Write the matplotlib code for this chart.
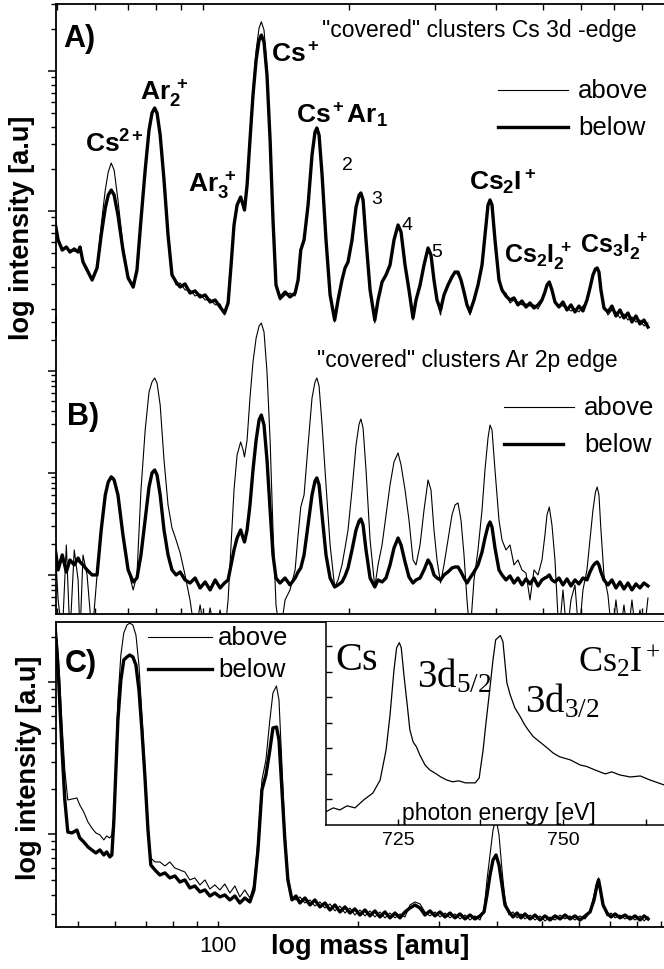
import numpy as np
import matplotlib
matplotlib.use('Agg')
import matplotlib.pyplot as plt
from matplotlib.lines import Line2D
from matplotlib.ticker import NullFormatter, LogLocator, FixedLocator

plt.rcParams['font.family'] = ['Liberation Sans', 'DejaVu Sans']
plt.rcParams['mathtext.fontset'] = 'custom'
plt.rcParams['mathtext.rm'] = 'Liberation Serif'
plt.rcParams['mathtext.bf'] = 'Liberation Sans:bold'
plt.rcParams['mathtext.it'] = 'Liberation Serif:italic'
plt.rcParams['mathtext.sf'] = 'Liberation Sans'

# ---- panels A and B: mass axis shared (amu), values are log10 intensity ----
mass_ab = [49.6, 50.3, 51.3, 52.3, 53.2, 54.3, 55.3, 55.8, 56.6, 57.7,
           59.1, 60.5, 61.7, 62.9, 63.8, 64.7, 65.6, 66.8, 68.4, 70.1,
           71.8, 73.1, 74.5, 76.0, 77.4, 78.5, 79.5, 80.4, 81.6, 83.1,
           84.7, 86.3, 88.0, 89.7, 91.8, 94.0, 96.3, 98.6, 101.0, 103.4,
           105.9, 108.4, 110.7, 112.6, 114.2, 115.8, 117.5, 119.5, 120.9, 121.7,
           123.2, 124.9, 126.7, 128.6, 130.4, 131.8, 133.5, 135.4, 137.4, 139.3,
           141.3, 144.0, 147.5, 151.0, 154.7, 156.9, 158.9, 161.4, 164.5, 167.6,
           170.0, 171.5, 173.3, 175.8, 179.1, 182.6, 186.6, 189.6, 193.2, 196.0,
           198.8, 202.6, 206.5, 209.5, 211.3, 213.5, 216.5, 220.7, 225.7, 229.2,
           233.6, 238.0, 242.6, 247.2, 252.0, 255.6, 260.5, 265.4, 270.5, 274.4,
           279.7, 285.0, 290.5, 294.6, 298.8, 303.1, 308.2, 313.3, 319.3, 325.4,
           330.1, 334.8, 339.6, 344.5, 349.4, 354.4, 361.2, 368.1, 375.2, 380.5,
           386.0, 389.7, 393.4, 399.0, 406.6, 412.5, 420.3, 428.4, 436.6, 444.9,
           453.4, 462.1, 471.0, 480.0, 489.2, 498.5, 505.6, 510.5, 516.1, 522.7,
           530.2, 540.4, 550.7, 561.2, 572.0, 582.9, 594.1, 605.4, 617.0, 625.9,
           634.8, 642.4, 647.6, 653.1, 659.3, 668.8, 681.6, 694.6, 707.9, 721.5,
           735.3, 749.4, 763.7, 778.3, 793.2, 808.4, 823.9]

a_below = [0.914, 0.793, 0.721, 0.743, 0.707, 0.729, 0.707, 0.743, 0.636, 0.578,
           0.507, 0.593, 0.828, 1.021, 1.114, 1.150, 1.114, 0.971, 0.721, 0.521,
           0.457, 0.578, 0.936, 1.293, 1.578, 1.700, 1.736, 1.700, 1.543, 1.221,
           0.828, 0.543, 0.493, 0.457, 0.479, 0.414, 0.429, 0.386, 0.400, 0.350,
           0.364, 0.314, 0.271, 0.343, 0.614, 0.900, 1.043, 1.100, 1.043, 1.007,
           1.186, 1.507, 1.828, 2.079, 2.221, 2.257, 2.207, 1.971, 1.507, 0.936,
           0.471, 0.379, 0.421, 0.386, 0.414, 0.507, 0.721, 0.793, 1.043, 1.400,
           1.564, 1.593, 1.543, 1.257, 0.793, 0.400, 0.221, 0.364, 0.507, 0.593,
           0.636, 0.793, 1.028, 1.114, 1.129, 1.079, 0.793, 0.436, 0.221, 0.364,
           0.493, 0.543, 0.614, 0.793, 0.900, 0.850, 0.614, 0.436, 0.236, 0.364,
           0.471, 0.614, 0.736, 0.686, 0.507, 0.364, 0.293, 0.400, 0.471, 0.529,
           0.564, 0.564, 0.507, 0.421, 0.329, 0.279, 0.364, 0.471, 0.614, 0.828,
           1.043, 1.079, 1.043, 0.793, 0.507, 0.436, 0.393, 0.364, 0.379, 0.329,
           0.357, 0.314, 0.343, 0.307, 0.329, 0.364, 0.421, 0.471, 0.493, 0.436,
           0.350, 0.314, 0.350, 0.293, 0.329, 0.279, 0.321, 0.286, 0.364, 0.450,
           0.543, 0.586, 0.593, 0.564, 0.436, 0.307, 0.279, 0.321, 0.250, 0.293,
           0.236, 0.271, 0.207, 0.250, 0.193, 0.221, 0.171]

a_above = [0.914, 0.793, 0.721, 0.736, 0.721, 0.714, 0.707, 0.743, 0.636, 0.593,
           0.514, 0.607, 0.900, 1.150, 1.279, 1.343, 1.293, 1.079, 0.757, 0.536,
           0.450, 0.578, 0.936, 1.293, 1.578, 1.700, 1.736, 1.700, 1.543, 1.221,
           0.828, 0.564, 0.471, 0.486, 0.436, 0.436, 0.393, 0.407, 0.364, 0.371,
           0.329, 0.336, 0.257, 0.329, 0.614, 0.900, 1.043, 1.100, 1.043, 1.007,
           1.186, 1.543, 1.878, 2.150, 2.307, 2.352, 2.293, 2.021, 1.543, 0.936,
           0.471, 0.364, 0.400, 0.414, 0.393, 0.507, 0.721, 0.793, 1.043, 1.400,
           1.564, 1.593, 1.543, 1.257, 0.793, 0.400, 0.207, 0.364, 0.493, 0.593,
           0.636, 0.793, 1.028, 1.114, 1.129, 1.079, 0.793, 0.421, 0.200, 0.364,
           0.493, 0.543, 0.614, 0.793, 0.900, 0.850, 0.614, 0.421, 0.221, 0.364,
           0.471, 0.614, 0.736, 0.686, 0.507, 0.364, 0.257, 0.400, 0.471, 0.529,
           0.564, 0.543, 0.507, 0.421, 0.329, 0.257, 0.364, 0.471, 0.614, 0.828,
           1.043, 1.079, 1.043, 0.793, 0.507, 0.421, 0.414, 0.343, 0.364, 0.350,
           0.329, 0.336, 0.321, 0.329, 0.300, 0.350, 0.421, 0.471, 0.493, 0.436,
           0.343, 0.329, 0.321, 0.307, 0.286, 0.300, 0.279, 0.321, 0.350, 0.450,
           0.543, 0.586, 0.593, 0.564, 0.436, 0.321, 0.257, 0.293, 0.279, 0.236,
           0.264, 0.221, 0.243, 0.207, 0.221, 0.179, 0.200]

b_below = [0.261, 0.046, 0.193, 0.026, 0.144, 0.095, 0.163, 0.124, 0.095, 0.046,
           -0.003, -0.003, 0.438, 0.781, 0.909, 0.958, 0.928, 0.781, 0.389, 0.046,
           -0.072, -0.033, 0.193, 0.536, 0.859, 0.997, 1.026, 0.977, 0.781, 0.438,
           0.193, 0.046, -0.003, 0.026, -0.052, -0.082, -0.033, -0.131, -0.072, -0.150,
           -0.052, -0.131, -0.082, -0.052, 0.095, 0.242, 0.359, 0.438, 0.359, 0.320,
           0.438, 0.683, 1.026, 1.320, 1.516, 1.565, 1.467, 1.124, 0.634, 0.193,
           -0.033, -0.082, -0.033, -0.101, -0.033, 0.026, 0.065, 0.193, 0.487, 0.781,
           0.918, 0.948, 0.879, 0.585, 0.193, -0.033, -0.121, -0.101, -0.072, -0.013,
           0.065, 0.242, 0.438, 0.526, 0.546, 0.487, 0.242, -0.033, -0.121, -0.052,
           -0.072, -0.033, 0.095, 0.261, 0.359, 0.291, 0.124, -0.023, -0.082, -0.052,
           -0.033, 0.046, 0.144, 0.095, -0.003, -0.033, -0.052, -0.003, 0.026, 0.065,
           0.075, 0.075, 0.026, -0.033, -0.082, -0.033, 0.026, 0.095, 0.222, 0.359,
           0.477, 0.516, 0.467, 0.261, 0.046, -0.003, -0.052, -0.013, -0.082, -0.033,
           -0.101, -0.042, -0.091, -0.033, -0.111, -0.052, -0.033, -0.023, -0.003, -0.052,
           -0.072, -0.033, -0.101, -0.042, -0.111, -0.052, -0.091, -0.033, -0.052, 0.026,
           0.085, 0.114, 0.124, 0.095, 0.026, -0.052, -0.101, -0.052, -0.131, -0.072,
           -0.141, -0.082, -0.150, -0.091, -0.131, -0.082, -0.111]

b_above = [0.271, -0.248, -0.6, 0.291, -0.6, 0.242, -0.052, -0.6, 0.193, -0.003,
           -0.6, -0.003, 0.418, 0.781, 0.909, 0.967, 0.948, 0.781, 0.389, 0.046,
           -0.150, -0.003, 0.830, 1.418, 1.791, 1.889, 1.928, 1.879, 1.663, 1.124,
           0.683, 0.458, 0.340, 0.212, -0.003, -0.248, -0.6, -0.297, -0.6, -0.327,
           -0.6, -0.346, -0.6, -0.248, 0.291, 0.830, 1.173, 1.301, 1.222, 1.154,
           1.320, 1.732, 2.085, 2.320, 2.438, 2.467, 2.379, 1.987, 1.320, 0.438,
           -0.297, -0.6, -0.248, -0.150, 0.046, 0.389, 0.663, 0.781, 1.271, 1.732,
           1.889, 1.928, 1.850, 1.467, 0.879, 0.291, -0.121, -0.052, 0.095, 0.261,
           0.438, 0.830, 1.271, 1.477, 1.526, 1.438, 1.026, 0.340, -0.121, 0.095,
           0.291, 0.585, 0.879, 1.105, 1.193, 1.075, 0.830, 0.536, 0.144, 0.095,
           0.291, 0.634, 0.928, 0.830, 0.438, 0.144, -0.082, 0.095, 0.340, 0.585,
           0.683, 0.703, 0.536, 0.193, -0.248, -0.6, -0.052, 0.242, 0.634, 1.026,
           1.340, 1.467, 1.418, 1.026, 0.536, 0.340, 0.242, 0.291, 0.095, 0.144,
           0.046, 0.016, -0.248, 0.046, -0.003, 0.144, 0.389, 0.585, 0.663, 0.487,
           0.144, -0.6, -0.150, -0.6, -0.248, -0.101, -0.6, -0.150, 0.046, 0.340,
           0.634, 0.810, 0.859, 0.781, 0.438, -0.003, -0.199, -0.6, -0.248, -0.6,
           -0.297, -0.6, -0.248, -0.6, -0.346, -0.6, -0.229]

# ---- panel C ----
mass_c = [44.8, 45.4, 46.1, 46.8, 47.5, 48.5, 49.7, 50.4, 51.4, 52.5,
          53.5, 54.6, 55.7, 56.8, 57.6, 58.5, 59.1, 59.7, 60.3, 60.9,
          61.8, 62.7, 63.7, 64.6, 65.6, 66.6, 67.6, 68.6, 69.6, 70.7,
          71.7, 73.2, 75.0, 76.9, 78.8, 80.8, 82.8, 84.9, 87.0, 89.2,
          91.5, 93.8, 96.1, 98.5, 101.0, 103.5, 106.1, 108.8, 111.5, 114.3,
          117.2, 119.6, 122.0, 124.4, 126.9, 129.4, 131.4, 133.7, 135.4, 137.4,
          139.4, 141.5, 144.4, 147.3, 150.2, 154.0, 157.9, 161.8, 165.9, 170.1,
          174.3, 178.7, 183.2, 187.8, 192.5, 197.3, 202.3, 207.4, 212.6, 217.9,
          223.4, 229.0, 234.8, 240.7, 246.7, 252.9, 259.3, 265.8, 272.5, 279.3,
          286.3, 293.5, 300.9, 308.5, 316.2, 324.1, 332.3, 340.6, 349.2, 357.9,
          366.9, 374.3, 379.9, 385.6, 391.4, 397.3, 403.2, 409.3, 415.4, 423.7,
          432.2, 440.9, 449.7, 458.7, 470.3, 482.1, 494.2, 506.6, 519.3, 532.4,
          545.8, 559.5, 573.5, 587.9, 602.7, 617.9, 633.4, 646.0, 655.7, 660.7,
          665.6, 675.6, 689.1, 702.9, 717.0, 735.0, 753.4, 772.4, 791.8, 811.7,
          828.0, 844.6]

c_below = [2.278, 2.015, 1.588, 1.226, 1.015, 1.009, 1.028, 0.976, 0.950, 0.917,
           0.897, 0.877, 0.897, 0.864, 0.884, 0.851, 0.864, 1.094, 1.423, 1.752,
           2.015, 2.147, 2.167, 2.180, 2.167, 2.114, 1.950, 1.686, 1.390, 1.028,
           0.798, 0.765, 0.732, 0.746, 0.713, 0.726, 0.686, 0.700, 0.647, 0.660,
           0.621, 0.634, 0.594, 0.614, 0.588, 0.601, 0.568, 0.594, 0.548, 0.581,
           0.555, 0.634, 0.897, 1.292, 1.390, 1.555, 1.700, 1.706, 1.621, 1.292,
           0.963, 0.700, 0.568, 0.594, 0.548, 0.581, 0.535, 0.568, 0.522, 0.548,
           0.502, 0.535, 0.489, 0.522, 0.482, 0.509, 0.469, 0.502, 0.463, 0.496,
           0.456, 0.489, 0.450, 0.482, 0.450, 0.489, 0.515, 0.535, 0.515, 0.469,
           0.496, 0.463, 0.489, 0.456, 0.482, 0.450, 0.476, 0.443, 0.469, 0.443,
           0.463, 0.489, 0.601, 0.732, 0.831, 0.864, 0.798, 0.667, 0.535, 0.489,
           0.456, 0.482, 0.450, 0.476, 0.443, 0.469, 0.436, 0.463, 0.436, 0.463,
           0.443, 0.469, 0.443, 0.463, 0.436, 0.463, 0.489, 0.568, 0.667, 0.700,
           0.647, 0.535, 0.482, 0.456, 0.476, 0.450, 0.469, 0.443, 0.463, 0.436,
           0.463, 0.443]

c_above = [2.390, 2.147, 1.752, 1.423, 1.226, 1.232, 1.239, 1.193, 1.147, 1.081,
           1.042, 1.009, 0.996, 0.963, 0.989, 0.976, 0.996, 1.127, 1.522, 1.884,
           2.180, 2.325, 2.377, 2.390, 2.377, 2.311, 2.114, 1.785, 1.456, 1.061,
           0.844, 0.818, 0.818, 0.792, 0.818, 0.778, 0.765, 0.752, 0.700, 0.713,
           0.667, 0.700, 0.640, 0.667, 0.634, 0.673, 0.614, 0.660, 0.588, 0.634,
           0.581, 0.667, 0.963, 1.357, 1.489, 1.752, 1.930, 1.976, 1.884, 1.456,
           1.028, 0.732, 0.581, 0.568, 0.588, 0.548, 0.568, 0.528, 0.555, 0.515,
           0.542, 0.496, 0.528, 0.482, 0.515, 0.469, 0.502, 0.463, 0.496, 0.456,
           0.489, 0.450, 0.482, 0.450, 0.476, 0.456, 0.535, 0.555, 0.542, 0.489,
           0.463, 0.489, 0.456, 0.482, 0.450, 0.476, 0.443, 0.469, 0.436, 0.463,
           0.436, 0.502, 0.700, 0.864, 1.028, 1.107, 0.996, 0.765, 0.568, 0.469,
           0.489, 0.450, 0.476, 0.443, 0.469, 0.436, 0.463, 0.430, 0.456, 0.436,
           0.469, 0.443, 0.463, 0.436, 0.463, 0.443, 0.489, 0.601, 0.686, 0.713,
           0.667, 0.548, 0.463, 0.482, 0.450, 0.469, 0.443, 0.463, 0.436, 0.463,
           0.430, 0.456]

# ---- inset: Cs2I+ yield vs photon energy ----
energy = [714.1, 715.2, 716.2, 717.3, 718.5, 719.8, 721.2, 722.3, 723.2, 723.8,
          724.4, 724.8, 725.2, 725.5, 725.9, 726.4, 726.8, 727.3, 727.8, 728.3,
          729.1, 729.8, 730.8, 731.5, 732.4, 733.3, 734.2, 735.2, 736.7, 737.3,
          737.9, 738.3, 738.9, 739.4, 739.8, 740.5, 740.9, 741.5, 742.0, 742.7,
          743.5, 744.2, 744.7, 745.5, 746.5, 747.6, 748.5, 749.5, 751.1, 752.6,
          753.6, 754.8, 756.4, 757.4, 758.6, 760.2, 761.7, 763.2, 765.3]
ion_yield = [5.2, 6.7, 5.9, 7.5, 6.7, 9.8, 12.5, 17.6, 29.4, 43.1,
             60.8, 69.4, 71.4, 69.4, 58.8, 47.1, 37.3, 32.5, 30.6, 27.5,
             23.5, 21.6, 20.0, 18.8, 17.6, 16.9, 17.3, 16.5, 16.5, 18.4,
             29.4, 39.2, 52.9, 64.7, 72.5, 74.2, 71.8, 55.7, 51.0, 45.9,
             42.5, 39.2, 37.3, 34.6, 32.5, 30.2, 28.2, 26.7, 25.5, 23.5,
             22.9, 21.6, 20.0, 20.8, 19.6, 18.8, 19.2, 17.6, 15.7]

W, H = 664, 969
def fx(x):
    return x / W
def fy(y):
    return 1 - y / H

fig = plt.figure(figsize=(W / 100, H / 100), dpi=100)
fig.patch.set_facecolor('white')

THIN, THICK = 0.8, 2.4
SPW = 1.3

def setup_log(ax, xlim, ylim):
    ax.set_xscale('log')
    ax.set_yscale('log')
    ax.set_xlim(*xlim)
    ax.set_ylim(*ylim)
    ax.set_facecolor('none')
    for s in ax.spines.values():
        s.set_linewidth(SPW)
    ax.spines['right'].set_visible(False)
    ax.xaxis.set_minor_locator(LogLocator(base=10, subs=np.arange(2, 10)))
    ax.yaxis.set_minor_locator(LogLocator(base=10, subs=np.arange(2, 10), numticks=20))
    for axis in (ax.xaxis, ax.yaxis):
        axis.set_major_formatter(NullFormatter())
        axis.set_minor_formatter(NullFormatter())
    ax.tick_params(axis='y', which='major', direction='out', length=6, width=1.1,
                   left=True, right=False)
    ax.tick_params(axis='y', which='minor', direction='out', length=3.5, width=1.0,
                   left=True, right=False)

xlim_ab = (49.8, 889)

# panel A
axA = fig.add_axes([fx(56), fy(336), 1 - fx(56), (336 - 4) / H])
setup_log(axA, xlim_ab, (10 ** 0.107, 10 ** 2.479))
axA.spines['bottom'].set_visible(False)
axA.tick_params(axis='x', which='both', direction='in', length=4, width=1.0,
                top=True, bottom=False)
axA.plot(mass_ab, np.power(10, a_above), color='k', lw=THIN)
axA.plot(mass_ab, np.power(10, a_below), color='k', lw=THICK)

# panel B
axB = fig.add_axes([fx(56), fy(614), 1 - fx(56), (614 - 316) / H])
setup_log(axB, xlim_ab, (10 ** -0.386, 10 ** 2.536))
axB.spines['top'].set_visible(False)
axB.tick_params(axis='x', which='both', direction='in', length=4, width=1.0,
                top=False, bottom=True)
axB.plot(mass_ab, np.power(10, b_above), color='k', lw=THIN)
axB.plot(mass_ab, np.power(10, b_below), color='k', lw=THICK)

# panel C
axC = fig.add_axes([fx(56), fy(926.7), 1 - fx(56), (926.7 - 621.7) / H])
setup_log(axC, (44.8, 914), (10 ** 0.392, 10 ** 2.399))
axC.xaxis.set_major_locator(FixedLocator([100]))
axC.set_xticklabels(['100'])
axC.tick_params(axis='x', which='both', direction='in', length=4.5, width=1.0,
                top=False, bottom=True, labelsize=16, pad=7)
axC.plot(mass_c, np.power(10, c_above), color='k', lw=THIN)
axC.plot(mass_c, np.power(10, c_below), color='k', lw=THICK)

# inset
axI = fig.add_axes([fx(326), fy(825), 1 - fx(326), (825 - 621.7) / H])
axI.set_facecolor('white')
axI.plot(energy, ion_yield, color='k', lw=0.9)
axI.set_xlim(714.1, 765.3)
axI.set_ylim(0, 79.6)
for s in axI.spines.values():
    s.set_linewidth(1.1)
axI.spines['right'].set_visible(False)
axI.spines['top'].set_visible(False)
axI.set_xticks([725, 750])
axI.set_xticklabels(['725', '750'])
axI.set_xticks([737.5, 762.5], minor=True)
axI.set_yticks([10, 20, 30, 40, 50, 60, 70])
axI.yaxis.set_major_formatter(NullFormatter())
axI.tick_params(axis='both', which='both', direction='in', length=4, width=1.0,
                labelsize=14, pad=5)

# ---- texts ----
def txt(x, y, s, size, bold=False, **kw):
    fig.text(fx(x), fy(y), s, fontsize=size,
             fontweight='bold' if bold else 'normal',
             ha=kw.pop('ha', 'left'), va=kw.pop('va', 'baseline'), **kw)

txt(22, 228, 'log intensity [a.u]', 19.5, bold=True, rotation=90, ha='center', va='center')
txt(29, 768, 'log intensity [a.u]', 19.5, bold=True, rotation=90, ha='center', va='center')
txt(271, 947, 'log mass [amu]', 19.5, bold=True, va='center')

txt(63, 47, 'A)', 22, bold=True)
txt(67, 425, 'B)', 22, bold=True)
txt(65, 672, 'C)', 22, bold=True)

txt(322, 37, '"covered" clusters Cs 3d -edge', 16.5)
txt(317, 367, '"covered" clusters Ar 2p edge', 16.5)

LBL = 19
txt(85, 153, r'$\mathbf{Cs^{2+}}$', LBL)
txt(140, 100, r'$\mathbf{Ar_2^{\ +}}$', LBL)
txt(188, 192, r'$\mathbf{Ar_3^{\ +}}$', LBL)
txt(271, 62, r'$\mathbf{Cs^+}$', LBL)
txt(296, 123, r'$\mathbf{Cs^+Ar_1}$', LBL)
txt(469, 190, r'$\mathbf{Cs_2I^+}$', LBL)
txt(504, 263, r'$\mathbf{Cs_2I_2^{\ +}}$', 18)
txt(580, 253, r'$\mathbf{Cs_3I_2^{\ +}}$', 18)
txt(342, 170, '2', 14)
txt(371, 204, '3', 14)
txt(402, 230, '4', 14)
txt(431, 257, '5', 14)

# legends drawn by hand
def legend(x0, x1, x1b, xt, ya, yb, size=18.5):
    fig.add_artist(Line2D([fx(x0), fx(x1)], [fy(ya), fy(ya)], lw=THIN, color='k',
                          transform=fig.transFigure))
    fig.add_artist(Line2D([fx(x0), fx(x1b)], [fy(yb), fy(yb)], lw=THICK, color='k',
                          transform=fig.transFigure))
    txt(xt, ya + 1, 'above', size, va='center')
    txt(xt, yb + 1, 'below', size, va='center')

legend(498, 568, 568, 578, 90, 127)
legend(504, 574, 563, 584, 407, 444)
legend(148, 212, 212, 218, 637, 669)

# inset labels (serif)
txt(335, 670, r'$\mathrm{Cs}$', 29)
txt(417, 687, r'$\mathrm{3d_{5/2}}$', 28)
txt(525, 712, r'$\mathrm{3d_{3/2}}$', 28)
txt(578, 672, r'$\mathrm{Cs_2I^+}$', 26)
txt(402, 820, 'photon energy [eV]', 16.5)

fig.savefig('out.png', dpi=100)
